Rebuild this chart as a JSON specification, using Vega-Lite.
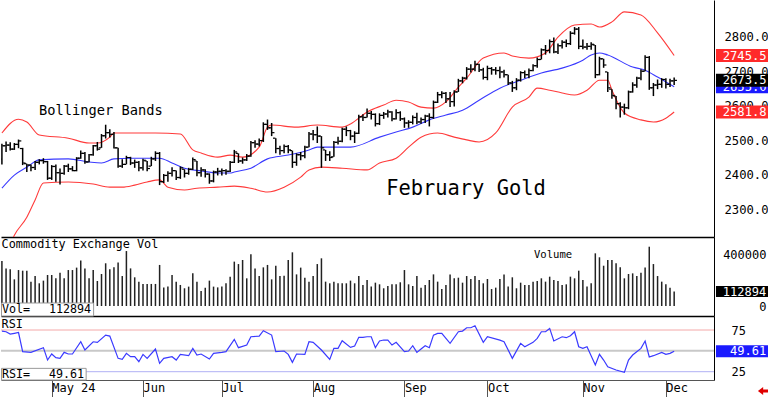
{
"$schema": "https://vega.github.io/schema/vega-lite/v6.json",
"padding": 0,
"background": "white",
"spacing": 0,
"bounds": "flush",
"config": {"view": {"stroke": null}, "font": "DejaVu Sans Mono", "axis": {"title": null, "grid": false}},
"datasets": {
"bars": [
{"i":0,"o":2445,"h":2490,"l":2430,"c":2484,"v":353000},
{"i":1,"o":2484,"h":2496,"l":2466,"c":2486,"v":295000},
{"i":2,"o":2486,"h":2494,"l":2470,"c":2474,"v":288000},
{"i":3,"o":2474,"h":2492,"l":2472,"c":2488,"v":209000},
{"i":4,"o":2488,"h":2502,"l":2477,"c":2498,"v":282000},
{"i":5,"o":2476,"h":2478,"l":2428,"c":2434,"v":277000},
{"i":6,"o":2432,"h":2432,"l":2408,"c":2428,"v":277000},
{"i":7,"o":2428,"h":2430,"l":2410,"c":2421,"v":191000},
{"i":8,"o":2421,"h":2440,"l":2414,"c":2436,"v":235000},
{"i":9,"o":2436,"h":2445,"l":2430,"c":2441,"v":178000},
{"i":10,"o":2441,"h":2448,"l":2432,"c":2438,"v":199000},
{"i":11,"o":2438,"h":2440,"l":2385,"c":2390,"v":243000},
{"i":12,"o":2390,"h":2428,"l":2385,"c":2424,"v":243000},
{"i":13,"o":2424,"h":2430,"l":2380,"c":2406,"v":217000},
{"i":14,"o":2406,"h":2418,"l":2372,"c":2404,"v":261000},
{"i":15,"o":2404,"h":2428,"l":2400,"c":2425,"v":217000},
{"i":16,"o":2425,"h":2432,"l":2408,"c":2417,"v":282000},
{"i":17,"o":2417,"h":2425,"l":2410,"c":2412,"v":282000},
{"i":18,"o":2412,"h":2451,"l":2410,"c":2448,"v":301000},
{"i":19,"o":2448,"h":2470,"l":2446,"c":2462,"v":356000},
{"i":20,"o":2462,"h":2466,"l":2432,"c":2437,"v":295000},
{"i":21,"o":2437,"h":2460,"l":2436,"c":2458,"v":217000},
{"i":22,"o":2458,"h":2486,"l":2455,"c":2484,"v":282000},
{"i":23,"o":2484,"h":2495,"l":2470,"c":2474,"v":196000},
{"i":24,"o":2478,"h":2518,"l":2478,"c":2513,"v":251000},
{"i":25,"o":2513,"h":2545,"l":2505,"c":2522,"v":335000},
{"i":26,"o":2522,"h":2532,"l":2508,"c":2517,"v":288000},
{"i":27,"o":2517,"h":2524,"l":2476,"c":2478,"v":303000},
{"i":28,"o":2478,"h":2478,"l":2420,"c":2425,"v":342000},
{"i":29,"o":2425,"h":2445,"l":2420,"c":2430,"v":235000},
{"i":30,"o":2430,"h":2455,"l":2430,"c":2450,"v":431000},
{"i":31,"o":2450,"h":2452,"l":2428,"c":2434,"v":295000},
{"i":32,"o":2434,"h":2444,"l":2420,"c":2436,"v":225000},
{"i":33,"o":2436,"h":2440,"l":2410,"c":2420,"v":191000},
{"i":34,"o":2420,"h":2446,"l":2412,"c":2442,"v":173000},
{"i":35,"o":2440,"h":2440,"l":2410,"c":2418,"v":173000},
{"i":36,"o":2425,"h":2452,"l":2425,"c":2446,"v":173000},
{"i":37,"o":2446,"h":2468,"l":2440,"c":2462,"v":173000},
{"i":38,"o":2462,"h":2466,"l":2370,"c":2380,"v":322000},
{"i":39,"o":2380,"h":2402,"l":2376,"c":2398,"v":146000},
{"i":40,"o":2398,"h":2410,"l":2380,"c":2404,"v":152000},
{"i":41,"o":2404,"h":2422,"l":2395,"c":2412,"v":243000},
{"i":42,"o":2412,"h":2412,"l":2385,"c":2392,"v":191000},
{"i":43,"o":2392,"h":2424,"l":2388,"c":2420,"v":165000},
{"i":44,"o":2416,"h":2416,"l":2392,"c":2404,"v":139000},
{"i":45,"o":2404,"h":2420,"l":2400,"c":2416,"v":152000},
{"i":46,"o":2416,"h":2450,"l":2414,"c":2444,"v":256000},
{"i":47,"o":2440,"h":2440,"l":2396,"c":2406,"v":191000},
{"i":48,"o":2406,"h":2422,"l":2394,"c":2414,"v":118000},
{"i":49,"o":2414,"h":2416,"l":2392,"c":2402,"v":144000},
{"i":50,"o":2402,"h":2404,"l":2374,"c":2382,"v":199000},
{"i":51,"o":2382,"h":2412,"l":2378,"c":2408,"v":152000},
{"i":52,"o":2408,"h":2420,"l":2398,"c":2410,"v":146000},
{"i":53,"o":2410,"h":2418,"l":2398,"c":2412,"v":152000},
{"i":54,"o":2412,"h":2416,"l":2400,"c":2410,"v":178000},
{"i":55,"o":2410,"h":2440,"l":2408,"c":2436,"v":230000},
{"i":56,"o":2436,"h":2472,"l":2434,"c":2466,"v":348000},
{"i":57,"o":2462,"h":2462,"l":2434,"c":2440,"v":329000},
{"i":58,"o":2440,"h":2450,"l":2432,"c":2443,"v":361000},
{"i":59,"o":2443,"h":2460,"l":2440,"c":2454,"v":217000},
{"i":60,"o":2454,"h":2498,"l":2452,"c":2493,"v":405000},
{"i":61,"o":2493,"h":2500,"l":2478,"c":2489,"v":295000},
{"i":62,"o":2489,"h":2505,"l":2482,"c":2499,"v":235000},
{"i":63,"o":2499,"h":2552,"l":2495,"c":2546,"v":303000},
{"i":64,"o":2546,"h":2560,"l":2530,"c":2536,"v":322000},
{"i":65,"o":2536,"h":2550,"l":2512,"c":2522,"v":209000},
{"i":66,"o":2506,"h":2506,"l":2462,"c":2476,"v":316000},
{"i":67,"o":2476,"h":2484,"l":2458,"c":2470,"v":235000},
{"i":68,"o":2470,"h":2488,"l":2462,"c":2482,"v":238000},
{"i":69,"o":2482,"h":2486,"l":2462,"c":2472,"v":361000},
{"i":70,"o":2470,"h":2470,"l":2420,"c":2436,"v":421000},
{"i":71,"o":2436,"h":2462,"l":2426,"c":2458,"v":248000},
{"i":72,"o":2458,"h":2466,"l":2442,"c":2455,"v":301000},
{"i":73,"o":2455,"h":2484,"l":2448,"c":2480,"v":222000},
{"i":74,"o":2480,"h":2524,"l":2480,"c":2518,"v":191000},
{"i":75,"o":2518,"h":2530,"l":2500,"c":2516,"v":235000},
{"i":76,"o":2516,"h":2540,"l":2492,"c":2512,"v":329000},
{"i":77,"o":2512,"h":2512,"l":2420,"c":2478,"v":374000},
{"i":78,"o":2472,"h":2472,"l":2440,"c":2458,"v":191000},
{"i":79,"o":2458,"h":2468,"l":2440,"c":2450,"v":178000},
{"i":80,"o":2452,"h":2498,"l":2452,"c":2494,"v":191000},
{"i":81,"o":2494,"h":2510,"l":2488,"c":2497,"v":178000},
{"i":82,"o":2497,"h":2536,"l":2494,"c":2532,"v":178000},
{"i":83,"o":2532,"h":2540,"l":2512,"c":2528,"v":178000},
{"i":84,"o":2528,"h":2530,"l":2500,"c":2512,"v":199000},
{"i":85,"o":2512,"h":2526,"l":2492,"c":2520,"v":178000},
{"i":86,"o":2520,"h":2574,"l":2518,"c":2568,"v":235000},
{"i":87,"o":2568,"h":2575,"l":2556,"c":2566,"v":165000},
{"i":88,"o":2566,"h":2592,"l":2566,"c":2578,"v":204000},
{"i":89,"o":2578,"h":2585,"l":2560,"c":2575,"v":152000},
{"i":90,"o":2575,"h":2578,"l":2540,"c":2548,"v":183000},
{"i":91,"o":2548,"h":2578,"l":2544,"c":2572,"v":170000},
{"i":92,"o":2572,"h":2582,"l":2562,"c":2576,"v":139000},
{"i":93,"o":2576,"h":2588,"l":2566,"c":2582,"v":157000},
{"i":94,"o":2582,"h":2584,"l":2555,"c":2562,"v":170000},
{"i":95,"o":2562,"h":2590,"l":2560,"c":2580,"v":170000},
{"i":96,"o":2580,"h":2584,"l":2556,"c":2562,"v":186000},
{"i":97,"o":2562,"h":2566,"l":2536,"c":2550,"v":282000},
{"i":98,"o":2550,"h":2558,"l":2536,"c":2552,"v":170000},
{"i":99,"o":2552,"h":2572,"l":2546,"c":2566,"v":157000},
{"i":100,"o":2566,"h":2580,"l":2546,"c":2553,"v":235000},
{"i":101,"o":2553,"h":2566,"l":2548,"c":2560,"v":144000},
{"i":102,"o":2560,"h":2574,"l":2550,"c":2570,"v":165000},
{"i":103,"o":2570,"h":2578,"l":2540,"c":2566,"v":204000},
{"i":104,"o":2566,"h":2615,"l":2562,"c":2610,"v":248000},
{"i":105,"o":2610,"h":2640,"l":2608,"c":2632,"v":191000},
{"i":106,"o":2632,"h":2642,"l":2622,"c":2636,"v":133000},
{"i":107,"o":2636,"h":2640,"l":2608,"c":2620,"v":165000},
{"i":108,"o":2620,"h":2640,"l":2596,"c":2612,"v":248000},
{"i":109,"o":2612,"h":2645,"l":2598,"c":2640,"v":217000},
{"i":110,"o":2640,"h":2678,"l":2640,"c":2672,"v":222000},
{"i":111,"o":2672,"h":2684,"l":2665,"c":2680,"v":183000},
{"i":112,"o":2680,"h":2712,"l":2676,"c":2706,"v":235000},
{"i":113,"o":2706,"h":2720,"l":2696,"c":2706,"v":212000},
{"i":114,"o":2706,"h":2730,"l":2700,"c":2720,"v":235000},
{"i":115,"o":2720,"h":2722,"l":2698,"c":2704,"v":204000},
{"i":116,"o":2704,"h":2710,"l":2676,"c":2682,"v":178000},
{"i":117,"o":2682,"h":2716,"l":2674,"c":2708,"v":212000},
{"i":118,"o":2708,"h":2712,"l":2690,"c":2704,"v":133000},
{"i":119,"o":2704,"h":2712,"l":2690,"c":2702,"v":144000},
{"i":120,"o":2702,"h":2714,"l":2680,"c":2698,"v":212000},
{"i":121,"o":2698,"h":2704,"l":2682,"c":2690,"v":248000},
{"i":122,"o":2690,"h":2690,"l":2660,"c":2666,"v":152000},
{"i":123,"o":2666,"h":2672,"l":2640,"c":2652,"v":225000},
{"i":124,"o":2652,"h":2680,"l":2645,"c":2674,"v":139000},
{"i":125,"o":2674,"h":2700,"l":2670,"c":2696,"v":183000},
{"i":126,"o":2696,"h":2702,"l":2680,"c":2690,"v":165000},
{"i":127,"o":2690,"h":2708,"l":2680,"c":2702,"v":165000},
{"i":128,"o":2702,"h":2720,"l":2700,"c":2716,"v":191000},
{"i":129,"o":2716,"h":2740,"l":2710,"c":2734,"v":196000},
{"i":130,"o":2734,"h":2766,"l":2734,"c":2762,"v":217000},
{"i":131,"o":2762,"h":2776,"l":2748,"c":2760,"v":191000},
{"i":132,"o":2760,"h":2792,"l":2752,"c":2786,"v":230000},
{"i":133,"o":2786,"h":2798,"l":2752,"c":2756,"v":204000},
{"i":134,"o":2756,"h":2780,"l":2750,"c":2774,"v":196000},
{"i":135,"o":2774,"h":2790,"l":2766,"c":2784,"v":165000},
{"i":136,"o":2784,"h":2792,"l":2770,"c":2780,"v":170000},
{"i":137,"o":2780,"h":2816,"l":2776,"c":2810,"v":230000},
{"i":138,"o":2810,"h":2828,"l":2806,"c":2822,"v":217000},
{"i":139,"o":2822,"h":2828,"l":2764,"c":2772,"v":277000},
{"i":140,"o":2772,"h":2792,"l":2764,"c":2770,"v":204000},
{"i":141,"o":2770,"h":2782,"l":2762,"c":2772,"v":152000},
{"i":142,"o":2772,"h":2784,"l":2762,"c":2778,"v":178000},
{"i":143,"o":2776,"h":2776,"l":2680,"c":2690,"v":413000},
{"i":144,"o":2690,"h":2742,"l":2688,"c":2736,"v":382000},
{"i":145,"o":2736,"h":2736,"l":2710,"c":2718,"v":316000},
{"i":146,"o":2698,"h":2698,"l":2640,"c":2652,"v":361000},
{"i":147,"o":2648,"h":2648,"l":2620,"c":2630,"v":361000},
{"i":148,"o":2628,"h":2628,"l":2590,"c":2606,"v":335000},
{"i":149,"o":2606,"h":2610,"l":2566,"c":2596,"v":303000},
{"i":150,"o":2596,"h":2606,"l":2574,"c":2594,"v":217000},
{"i":151,"o":2594,"h":2644,"l":2590,"c":2640,"v":251000},
{"i":152,"o":2640,"h":2668,"l":2638,"c":2660,"v":256000},
{"i":153,"o":2660,"h":2684,"l":2652,"c":2680,"v":235000},
{"i":154,"o":2680,"h":2706,"l":2674,"c":2700,"v":261000},
{"i":155,"o":2700,"h":2746,"l":2700,"c":2740,"v":301000},
{"i":156,"o":2740,"h":2744,"l":2646,"c":2652,"v":465000},
{"i":157,"o":2652,"h":2666,"l":2628,"c":2660,"v":329000},
{"i":158,"o":2660,"h":2676,"l":2648,"c":2662,"v":235000},
{"i":159,"o":2662,"h":2680,"l":2652,"c":2676,"v":191000},
{"i":160,"o":2676,"h":2680,"l":2650,"c":2662,"v":170000},
{"i":161,"o":2662,"h":2678,"l":2654,"c":2672,"v":144000},
{"i":162,"o":2672,"h":2682,"l":2660,"c":2673.5,"v":112894}
],
"bands": [
{"i":0,"b":"up","p":2521},{"i":4,"b":"up","p":2561},{"i":6,"b":"up","p":2553},{"i":9,"b":"up","p":2515},{"i":16,"b":"up","p":2506},{"i":21,"b":"up","p":2492},{"i":23,"b":"up","p":2492},{"i":26,"b":"up","p":2509},{"i":27,"b":"up","p":2521},{"i":32,"b":"up","p":2521},{"i":37,"b":"up","p":2521},{"i":43,"b":"up","p":2518},{"i":46,"b":"up","p":2472},{"i":48,"b":"up","p":2463},{"i":52,"b":"up","p":2451},{"i":55,"b":"up","p":2457},{"i":58,"b":"up","p":2451},{"i":62,"b":"up","p":2480},{"i":64,"b":"up","p":2538},{"i":65,"b":"up","p":2544},{"i":71,"b":"up","p":2538},{"i":76,"b":"up","p":2544},{"i":82,"b":"up","p":2538},{"i":84,"b":"up","p":2547},{"i":88,"b":"up","p":2582},{"i":92,"b":"up","p":2602},{"i":95,"b":"up","p":2616},{"i":98,"b":"up","p":2611},{"i":101,"b":"up","p":2596},{"i":104,"b":"up","p":2593},{"i":107,"b":"up","p":2611},{"i":110,"b":"up","p":2654},{"i":112,"b":"up","p":2680},{"i":116,"b":"up","p":2738},{"i":121,"b":"up","p":2753},{"i":123,"b":"up","p":2744},{"i":127,"b":"up","p":2738},{"i":131,"b":"up","p":2753},{"i":134,"b":"up","p":2799},{"i":138,"b":"up","p":2834},{"i":142,"b":"up","p":2837},{"i":144,"b":"up","p":2828},{"i":147,"b":"up","p":2843},{"i":150,"b":"up","p":2872},{"i":154,"b":"up","p":2863},{"i":158,"b":"up","p":2811},{"i":162,"b":"up","p":2745.5},
{"i":0,"b":"mid","p":2361},{"i":3,"b":"mid","p":2399},{"i":6,"b":"mid","p":2422},{"i":9,"b":"mid","p":2443},{"i":16,"b":"mid","p":2446},{"i":21,"b":"mid","p":2437},{"i":24,"b":"mid","p":2434},{"i":27,"b":"mid","p":2446},{"i":31,"b":"mid","p":2448},{"i":35,"b":"mid","p":2448},{"i":38,"b":"mid","p":2448},{"i":41,"b":"mid","p":2434},{"i":44,"b":"mid","p":2419},{"i":48,"b":"mid","p":2411},{"i":52,"b":"mid","p":2405},{"i":55,"b":"mid","p":2405},{"i":56,"b":"mid","p":2408},{"i":60,"b":"mid","p":2419},{"i":64,"b":"mid","p":2446},{"i":69,"b":"mid","p":2457},{"i":74,"b":"mid","p":2472},{"i":76,"b":"mid","p":2480},{"i":82,"b":"mid","p":2480},{"i":84,"b":"mid","p":2480},{"i":91,"b":"mid","p":2509},{"i":95,"b":"mid","p":2524},{"i":99,"b":"mid","p":2538},{"i":103,"b":"mid","p":2559},{"i":107,"b":"mid","p":2573},{"i":111,"b":"mid","p":2587},{"i":115,"b":"mid","p":2616},{"i":120,"b":"mid","p":2651},{"i":125,"b":"mid","p":2674},{"i":130,"b":"mid","p":2695},{"i":135,"b":"mid","p":2709},{"i":140,"b":"mid","p":2732},{"i":142,"b":"mid","p":2747},{"i":144,"b":"mid","p":2753},{"i":146,"b":"mid","p":2747},{"i":152,"b":"mid","p":2712},{"i":155,"b":"mid","p":2703},{"i":158,"b":"mid","p":2683},{"i":160,"b":"mid","p":2669},{"i":162,"b":"mid","p":2655},
{"i":0,"b":"lo","p":2150},{"i":1,"b":"lo","p":2175},{"i":2,"b":"lo","p":2200},{"i":3,"b":"lo","p":2225},{"i":6,"b":"lo","p":2277},{"i":8,"b":"lo","p":2327},{"i":10,"b":"lo","p":2376},{"i":16,"b":"lo","p":2379},{"i":22,"b":"lo","p":2373},{"i":26,"b":"lo","p":2364},{"i":29,"b":"lo","p":2364},{"i":32,"b":"lo","p":2370},{"i":35,"b":"lo","p":2379},{"i":38,"b":"lo","p":2385},{"i":40,"b":"lo","p":2364},{"i":44,"b":"lo","p":2356},{"i":47,"b":"lo","p":2361},{"i":52,"b":"lo","p":2364},{"i":56,"b":"lo","p":2367},{"i":60,"b":"lo","p":2361},{"i":64,"b":"lo","p":2350},{"i":68,"b":"lo","p":2364},{"i":72,"b":"lo","p":2393},{"i":74,"b":"lo","p":2414},{"i":77,"b":"lo","p":2422},{"i":82,"b":"lo","p":2419},{"i":88,"b":"lo","p":2414},{"i":91,"b":"lo","p":2434},{"i":95,"b":"lo","p":2448},{"i":98,"b":"lo","p":2480},{"i":101,"b":"lo","p":2509},{"i":105,"b":"lo","p":2521},{"i":109,"b":"lo","p":2509},{"i":112,"b":"lo","p":2501},{"i":115,"b":"lo","p":2495},{"i":119,"b":"lo","p":2521},{"i":123,"b":"lo","p":2596},{"i":127,"b":"lo","p":2625},{"i":129,"b":"lo","p":2651},{"i":132,"b":"lo","p":2645},{"i":135,"b":"lo","p":2637},{"i":138,"b":"lo","p":2631},{"i":141,"b":"lo","p":2645},{"i":144,"b":"lo","p":2674},{"i":146,"b":"lo","p":2674},{"i":147,"b":"lo","p":2645},{"i":150,"b":"lo","p":2579},{"i":154,"b":"lo","p":2559},{"i":157,"b":"lo","p":2553},{"i":160,"b":"lo","p":2564},{"i":162,"b":"lo","p":2581.8}
],
"rsi": [
{"i":0,"r":73.7},{"i":1,"r":72.9},{"i":2,"r":70.1},{"i":3,"r":71},{"i":4,"r":72},{"i":5,"r":49},{"i":7,"r":48.2},{"i":10,"r":53.8},{"i":11,"r":39},{"i":12,"r":46.2},{"i":13,"r":41.8},{"i":14,"r":41},{"i":15,"r":48.2},{"i":16,"r":46.2},{"i":17,"r":46.2},{"i":19,"r":60.9},{"i":20,"r":51},{"i":22,"r":60.9},{"i":23,"r":60.2},{"i":25,"r":68.9},{"i":26,"r":67.7},{"i":28,"r":41},{"i":29,"r":39.8},{"i":30,"r":47},{"i":31,"r":43},{"i":32,"r":43},{"i":33,"r":37},{"i":34,"r":45.8},{"i":35,"r":41},{"i":37,"r":52.2},{"i":38,"r":35},{"i":39,"r":41},{"i":41,"r":43},{"i":42,"r":39},{"i":43,"r":45.8},{"i":45,"r":44.2},{"i":46,"r":53},{"i":47,"r":45},{"i":48,"r":46.2},{"i":50,"r":40.2},{"i":51,"r":47},{"i":53,"r":48.2},{"i":54,"r":49},{"i":56,"r":63.8},{"i":57,"r":53.8},{"i":59,"r":57},{"i":60,"r":66.9},{"i":62,"r":67.7},{"i":63,"r":74.1},{"i":65,"r":68.9},{"i":66,"r":49},{"i":68,"r":49.8},{"i":69,"r":45.8},{"i":70,"r":36.2},{"i":71,"r":46.2},{"i":73,"r":45.8},{"i":74,"r":60.9},{"i":75,"r":60.2},{"i":77,"r":51},{"i":79,"r":39.8},{"i":80,"r":53},{"i":81,"r":53},{"i":82,"r":62.1},{"i":84,"r":54.2},{"i":85,"r":55.8},{"i":86,"r":66.2},{"i":87,"r":66.2},{"i":88,"r":66.9},{"i":89,"r":66.9},{"i":90,"r":53.8},{"i":91,"r":61.8},{"i":92,"r":63},{"i":93,"r":62.9},{"i":94,"r":57},{"i":95,"r":60.2},{"i":97,"r":49},{"i":98,"r":49.8},{"i":99,"r":56.2},{"i":100,"r":48.2},{"i":101,"r":52.2},{"i":102,"r":56.2},{"i":103,"r":53.8},{"i":104,"r":68.9},{"i":105,"r":70.9},{"i":106,"r":70.9},{"i":108,"r":59},{"i":110,"r":72.9},{"i":111,"r":73.7},{"i":112,"r":77.7},{"i":113,"r":77.7},{"i":114,"r":80.1},{"i":116,"r":60.2},{"i":117,"r":66.9},{"i":120,"r":62.9},{"i":121,"r":60.9},{"i":123,"r":41},{"i":125,"r":59},{"i":126,"r":55},{"i":128,"r":60.2},{"i":129,"r":65},{"i":130,"r":72.9},{"i":131,"r":72.9},{"i":132,"r":76.9},{"i":133,"r":61.8},{"i":135,"r":66.9},{"i":136,"r":65.8},{"i":137,"r":68.1},{"i":138,"r":72.9},{"i":139,"r":55},{"i":140,"r":53},{"i":141,"r":55},{"i":143,"r":33},{"i":144,"r":45.8},{"i":145,"r":39},{"i":146,"r":31},{"i":148,"r":27},{"i":150,"r":24.2},{"i":151,"r":39},{"i":152,"r":45},{"i":154,"r":53},{"i":155,"r":61.8},{"i":156,"r":42.6},{"i":157,"r":44.2},{"i":159,"r":48.2},{"i":160,"r":45.8},{"i":161,"r":47},{"i":162,"r":49.61}
]
},
"vconcat": [
{
"width": 713, "height": 237,
"layer": [
{"data": {"name": "bands"}, "mark": {"type": "line", "clip": true, "strokeWidth": 1.1, "interpolate": "monotone"},
 "encoding": {
  "x": {"field": "i", "type": "quantitative", "title": null, "scale": {"domain": [-0.22, 171.6], "nice": false, "zero": false}, "axis": {"title": null, "labels": false, "ticks": false, "tickSize": 0, "grid": false, "domain": true, "domainColor": "#000", "domainWidth": 1.5}},
  "y": {"field": "p", "type": "quantitative", "title": null, "scale": {"domain": [2219.6, 2906.4], "nice": false, "zero": false}, "axis": {"orient": "right", "title": null, "values": [2300, 2400, 2500, 2600, 2700, 2800], "format": ".1f", "labelFont": "DejaVu Sans Mono", "labelFontSize": 12.2, "labelColor": "#000", "labelPadding": 10, "ticks": false, "tickSize": 0, "grid": false, "domain": true, "domainColor": "#000", "domainWidth": 1}},
  "color": {"field": "b", "type": "nominal", "scale": {"domain": ["up", "mid", "lo"], "range": ["#ff3a3a", "#3a3aff", "#ff3a3a"]}, "legend": null},
  "detail": {"field": "b", "type": "nominal"}
 }},
{"data": {"name": "bars"}, "mark": {"type": "rule", "clip": true, "strokeWidth": 1.5, "color": "#000"},
 "encoding": {
  "x": {"field": "i", "type": "quantitative", "title": null},
  "y": {"field": "l", "type": "quantitative", "title": null},
  "y2": {"field": "h"}
 }},
{"data": {"name": "bars"}, "mark": {"type": "tick", "orient": "horizontal", "size": 2.4, "thickness": 1.2, "xOffset": -1.6, "color": "#000", "opacity": 1, "clip": true},
 "encoding": {
  "x": {"field": "i", "type": "quantitative", "title": null},
  "y": {"field": "o", "type": "quantitative", "title": null}
 }},
{"data": {"name": "bars"}, "mark": {"type": "tick", "orient": "horizontal", "size": 2.4, "thickness": 1.2, "xOffset": 1.6, "color": "#000", "opacity": 1, "clip": true},
 "encoding": {
  "x": {"field": "i", "type": "quantitative", "title": null},
  "y": {"field": "c", "type": "quantitative", "title": null}
 }},
{"data": {"values": [{"t": "Bollinger Bands"}]}, "mark": {"type": "text", "align": "left", "baseline": "alphabetic", "font": "DejaVu Sans Mono", "fontSize": 13.7, "color": "#000"},
 "encoding": {
  "x": {"datum": 8.94, "type": "quantitative"},
  "y": {"datum": 2572, "type": "quantitative"},
  "text": {"field": "t", "type": "nominal"}
 }},
{"data": {"values": [{"t": "February Gold"}]}, "mark": {"type": "text", "align": "left", "baseline": "alphabetic", "font": "DejaVu Sans Mono", "fontSize": 20.4, "color": "#000"},
 "encoding": {
  "x": {"datum": 92.6, "type": "quantitative"},
  "y": {"datum": 2341, "type": "quantitative"},
  "text": {"field": "t", "type": "nominal"}
 }},
{"data": {"name": "bands"}, "transform": [{"filter": "datum.i == 162 && datum.b == 'mid'"}],
 "mark": {"type": "tick", "orient": "horizontal", "size": 54, "thickness": 13, "xOffset": 68.8, "color": "#1a1aff", "opacity": 1},
 "encoding": {
  "x": {"field": "i", "type": "quantitative", "title": null},
  "y": {"field": "p", "type": "quantitative", "title": null}
 }},
{"data": {"name": "bands"}, "transform": [{"filter": "datum.i == 162 && datum.b == 'mid'"}],
 "mark": {"type": "text", "align": "right", "baseline": "middle", "xOffset": 92.5, "font": "DejaVu Sans Mono", "fontSize": 12.2, "color": "#fff"},
 "encoding": {
  "x": {"field": "i", "type": "quantitative", "title": null},
  "y": {"field": "p", "type": "quantitative", "title": null},
  "text": {"field": "p", "type": "quantitative", "format": ".1f"}
 }},
{"data": {"name": "bars"}, "transform": [{"filter": "datum.i == 162"}],
 "mark": {"type": "tick", "orient": "horizontal", "size": 54, "thickness": 13, "xOffset": 68.8, "color": "#000", "opacity": 1},
 "encoding": {
  "x": {"field": "i", "type": "quantitative", "title": null},
  "y": {"field": "c", "type": "quantitative", "title": null}
 }},
{"data": {"name": "bars"}, "transform": [{"filter": "datum.i == 162"}],
 "mark": {"type": "text", "align": "right", "baseline": "middle", "xOffset": 92.5, "font": "DejaVu Sans Mono", "fontSize": 12.2, "color": "#fff"},
 "encoding": {
  "x": {"field": "i", "type": "quantitative", "title": null},
  "y": {"field": "c", "type": "quantitative", "title": null},
  "text": {"field": "c", "type": "quantitative", "format": ".1f"}
 }},
{"data": {"name": "bands"}, "transform": [{"filter": "datum.i == 162 && datum.b != 'mid'"}],
 "mark": {"type": "tick", "orient": "horizontal", "size": 54, "thickness": 13, "xOffset": 68.8, "color": "#ff2a2a", "opacity": 1},
 "encoding": {
  "x": {"field": "i", "type": "quantitative", "title": null},
  "y": {"field": "p", "type": "quantitative", "title": null}
 }},
{"data": {"name": "bands"}, "transform": [{"filter": "datum.i == 162 && datum.b != 'mid'"}],
 "mark": {"type": "text", "align": "right", "baseline": "middle", "xOffset": 92.5, "font": "DejaVu Sans Mono", "fontSize": 12.2, "color": "#fff"},
 "encoding": {
  "x": {"field": "i", "type": "quantitative", "title": null},
  "y": {"field": "p", "type": "quantitative", "title": null},
  "text": {"field": "p", "type": "quantitative", "format": ".1f"}
 }}
]
},
{
"width": 713, "height": 79,
"layer": [
{"data": {"name": "bars"}, "mark": {"type": "rule", "clip": true, "strokeWidth": 1.5, "color": "#222"},
 "encoding": {
  "x": {"field": "i", "type": "quantitative", "title": null, "scale": {"domain": [-0.22, 171.6], "nice": false, "zero": false}, "axis": {"title": null, "labels": false, "ticks": false, "tickSize": 0, "grid": false, "domain": true, "domainColor": "#000", "domainWidth": 1.5}},
  "y": {"field": "v", "type": "quantitative", "title": null, "scale": {"domain": [-78431, 541176], "nice": false, "zero": false}, "axis": {"orient": "right", "title": null, "values": [0, 200000, 400000], "format": "d", "labelFont": "DejaVu Sans Mono", "labelFontSize": 12, "labelColor": "#000", "labelAlign": "right", "labelPadding": 52, "ticks": false, "tickSize": 0, "grid": false, "domain": true, "domainColor": "#000", "domainWidth": 1}},
  "y2": {"datum": 0}
 }},
{"data": {"values": [{"t": "Commodity Exchange Vol"}]}, "mark": {"type": "text", "align": "left", "baseline": "alphabetic", "font": "DejaVu Sans Mono", "fontSize": 11.85, "color": "#000"},
 "encoding": {
  "x": {"datum": -0.1, "type": "quantitative"},
  "y": {"datum": 454903, "type": "quantitative"},
  "text": {"field": "t", "type": "nominal"}
 }},
{"data": {"values": [{"t": "Volume"}]}, "mark": {"type": "text", "align": "left", "baseline": "alphabetic", "font": "DejaVu Sans Mono", "fontSize": 10.6, "color": "#000"},
 "encoding": {
  "x": {"datum": 128.2, "type": "quantitative"},
  "y": {"datum": 372552, "type": "quantitative"},
  "text": {"field": "t", "type": "nominal"}
 }},
{"data": {"values": [{"t": "box"}]}, "mark": {"type": "rect", "fill": "#fff", "stroke": "#999", "strokeWidth": 1},
 "encoding": {
  "x": {"datum": -0.1, "type": "quantitative"},
  "x2": {"datum": 22.1},
  "y": {"datum": 23538, "type": "quantitative"},
  "y2": {"datum": -78431}
 }},
{"data": {"values": [{"t": "Vol="}]}, "mark": {"type": "text", "align": "left", "baseline": "alphabetic", "font": "DejaVu Sans Mono", "fontSize": 11.7, "color": "#000"},
 "encoding": {
  "x": {"datum": 0, "type": "quantitative"},
  "y": {"datum": -54892, "type": "quantitative"},
  "text": {"field": "t", "type": "nominal"}
 }},
{"data": {"name": "bars"}, "transform": [{"filter": "datum.i == 162"}], "mark": {"type": "text", "align": "right", "baseline": "alphabetic", "font": "DejaVu Sans Mono", "fontSize": 11.7, "color": "#000"},
 "encoding": {
  "x": {"datum": 21.5, "type": "quantitative"},
  "y": {"datum": -54892, "type": "quantitative"},
  "text": {"field": "v", "type": "quantitative", "format": "d"}
 }},
{"data": {"name": "bars"}, "transform": [{"filter": "datum.i == 162"}],
 "mark": {"type": "tick", "orient": "horizontal", "size": 54, "thickness": 11, "xOffset": 68.8, "color": "#000", "opacity": 1},
 "encoding": {
  "x": {"field": "i", "type": "quantitative", "title": null},
  "y": {"field": "v", "type": "quantitative", "title": null}
 }},
{"data": {"name": "bars"}, "transform": [{"filter": "datum.i == 162"}],
 "mark": {"type": "text", "align": "right", "baseline": "middle", "xOffset": 92, "font": "DejaVu Sans Mono", "fontSize": 12, "color": "#fff"},
 "encoding": {
  "x": {"field": "i", "type": "quantitative", "title": null},
  "y": {"field": "v", "type": "quantitative", "title": null},
  "text": {"field": "v", "type": "quantitative", "format": "d"}
 }}
]
},
{
"width": 713, "height": 64,
"layer": [
{"data": {"values": [{"lv": 75}]}, "mark": {"type": "rule", "color": "#f4a8a8", "strokeWidth": 1},
 "encoding": {
  "x": {"datum": -0.22, "type": "quantitative", "scale": {"domain": [-0.22, 171.6], "nice": false, "zero": false}, "axis": {"title": null, "orient": "bottom", "values": [12, 34, 53, 75, 97, 117, 140, 160], "labelExpr": "datum.value == 12 ? 'May 24' : datum.value == 34 ? 'Jun' : datum.value == 53 ? 'Jul' : datum.value == 75 ? 'Aug' : datum.value == 97 ? 'Sep' : datum.value == 117 ? 'Oct' : datum.value == 140 ? 'Nov' : 'Dec'", "ticks": true, "tickSize": 17, "tickColor": "#555", "tickWidth": 1, "domain": true, "domainColor": "#555", "domainWidth": 1, "labelAlign": "left", "labelBaseline": "top", "labelPadding": -15, "labelDx": 3, "labelFont": "DejaVu Sans Mono", "labelFontSize": 12, "labelColor": "#000", "labelOverlap": false, "labelFlush": false, "grid": false}},
  "x2": {"datum": 171.6},
  "y": {"field": "lv", "type": "quantitative", "title": null, "scale": {"domain": [15.05, 91.79], "nice": false, "zero": false}, "axis": {"orient": "right", "title": null, "values": [25, 75], "labelFont": "DejaVu Sans Mono", "labelFontSize": 12, "labelColor": "#000", "labelPadding": 17, "ticks": false, "tickSize": 0, "grid": false, "domain": true, "domainColor": "#000", "domainWidth": 1}}
 }},
{"data": {"values": [{"lv": 50}]}, "mark": {"type": "rule", "color": "#c8c8c8", "strokeWidth": 2},
 "encoding": {
  "x": {"datum": -0.22, "type": "quantitative"},
  "x2": {"datum": 171.6},
  "y": {"field": "lv", "type": "quantitative", "title": null}
 }},
{"data": {"values": [{"lv": 25}]}, "mark": {"type": "rule", "color": "#b0b0f4", "strokeWidth": 1},
 "encoding": {
  "x": {"datum": -0.22, "type": "quantitative"},
  "x2": {"datum": 171.6},
  "y": {"field": "lv", "type": "quantitative", "title": null}
 }},
{"data": {"name": "rsi"}, "mark": {"type": "line", "color": "#3a3aff", "strokeWidth": 1.2, "clip": true},
 "encoding": {
  "x": {"field": "i", "type": "quantitative", "title": null},
  "y": {"field": "r", "type": "quantitative", "title": null}
 }},
{"data": {"values": [{"t": "RSI"}]}, "mark": {"type": "text", "align": "left", "baseline": "alphabetic", "font": "DejaVu Sans Mono", "fontSize": 11.85, "color": "#000"},
 "encoding": {
  "x": {"datum": -0.1, "type": "quantitative"},
  "y": {"datum": 77.3, "type": "quantitative"},
  "text": {"field": "t", "type": "nominal"}
 }},
{"data": {"values": [{"t": "box"}]}, "mark": {"type": "rect", "fill": "#fff", "stroke": "#999", "strokeWidth": 1},
 "encoding": {
  "x": {"datum": -0.1, "type": "quantitative"},
  "x2": {"datum": 20.3},
  "y": {"datum": 29.0, "type": "quantitative"},
  "y2": {"datum": 15.05}
 }},
{"data": {"values": [{"t": "RSI="}]}, "mark": {"type": "text", "align": "left", "baseline": "alphabetic", "font": "DejaVu Sans Mono", "fontSize": 11.7, "color": "#000"},
 "encoding": {
  "x": {"datum": 0, "type": "quantitative"},
  "y": {"datum": 18.0, "type": "quantitative"},
  "text": {"field": "t", "type": "nominal"}
 }},
{"data": {"name": "rsi"}, "transform": [{"filter": "datum.i == 162"}], "mark": {"type": "text", "align": "right", "baseline": "alphabetic", "font": "DejaVu Sans Mono", "fontSize": 11.7, "color": "#000"},
 "encoding": {
  "x": {"datum": 19.8, "type": "quantitative"},
  "y": {"datum": 18.0, "type": "quantitative"},
  "text": {"field": "r", "type": "quantitative", "format": ".2f"}
 }},
{"data": {"name": "rsi"}, "transform": [{"filter": "datum.i == 162"}],
 "mark": {"type": "tick", "orient": "horizontal", "size": 54, "thickness": 12, "xOffset": 68.8, "color": "#1a1aff", "opacity": 1},
 "encoding": {
  "x": {"field": "i", "type": "quantitative", "title": null},
  "y": {"field": "r", "type": "quantitative", "title": null}
 }},
{"data": {"name": "rsi"}, "transform": [{"filter": "datum.i == 162"}],
 "mark": {"type": "text", "align": "right", "baseline": "middle", "xOffset": 92, "font": "DejaVu Sans Mono", "fontSize": 12, "color": "#fff"},
 "encoding": {
  "x": {"field": "i", "type": "quantitative", "title": null},
  "y": {"field": "r", "type": "quantitative", "title": null},
  "text": {"field": "r", "type": "quantitative", "format": ".2f"}
 }},
{"data": {"name": "rsi"}, "transform": [{"filter": "datum.i == 162"}],
 "mark": {"type": "point", "shape": "M -1 0 L 0 -0.75 L 0 -0.3 L 1 -0.3 L 1 0.3 L 0 0.3 L 0 0.75 Z", "filled": true, "color": "#e00000", "opacity": 1, "size": 110, "xOffset": 89},
 "encoding": {
  "x": {"field": "i", "type": "quantitative", "title": null},
  "y": {"datum": 1.8, "type": "quantitative"}
 }}
]
}
]
}
